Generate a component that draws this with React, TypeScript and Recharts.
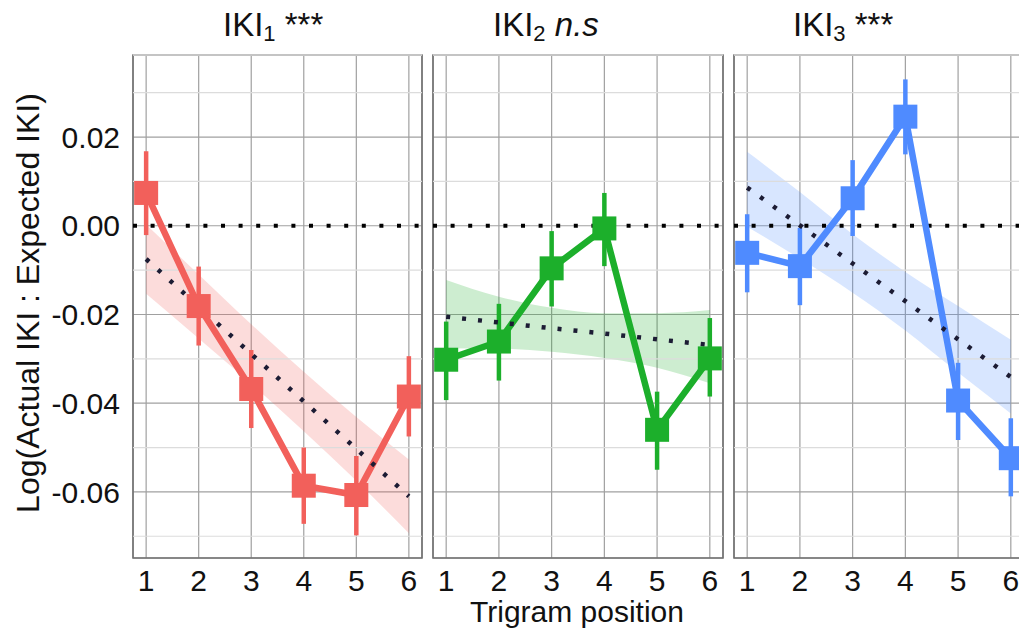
import React from "react";
import {
  ComposedChart,
  Line,
  Area,
  XAxis,
  YAxis,
  CartesianGrid,
  ReferenceLine,
  ReferenceArea,
  ErrorBar,
} from "recharts";

// trigram positions on the x axis
const positions = [1, 2, 3, 4, 5, 6];

// IKI1: mean log ratio with 95% CI, plus linear fit and its ribbon
const iki1Mean = [0.0074, -0.0181, -0.0368, -0.0586, -0.0607, -0.0385];
const iki1Lo = [-0.0021, -0.027, -0.0456, -0.0672, -0.0698, -0.0475];
const iki1Hi = [0.0168, -0.0092, -0.028, -0.05, -0.0519, -0.0294];
const iki1Fit = [-0.0075, -0.0182, -0.0289, -0.0396, -0.0503, -0.061];
const iki1FitLo = [-0.0153, -0.0254, -0.0356, -0.0463, -0.0575, -0.0693];
const iki1FitHi = [0.0003, -0.011, -0.0222, -0.0329, -0.0431, -0.0527];

// IKI2
const iki2Mean = [-0.0302, -0.0261, -0.0096, -0.0006, -0.046, -0.0299];
const iki2Lo = [-0.0393, -0.0349, -0.0182, -0.0091, -0.055, -0.0385];
const iki2Hi = [-0.0216, -0.0176, -0.0012, 0.0074, -0.0374, -0.0208];
const iki2Fit = [-0.0205, -0.0218, -0.0231, -0.0243, -0.0256, -0.0269];
const iki2FitLo = [-0.0276, -0.0277, -0.0284, -0.0298, -0.032, -0.0355];
const iki2FitHi = [-0.0122, -0.016, -0.0185, -0.0197, -0.0197, -0.019];

// IKI3
const iki3Mean = [-0.0061, -0.0091, 0.0062, 0.0246, -0.0394, -0.0524];
const iki3Lo = [-0.015, -0.0179, -0.0023, 0.0161, -0.0483, -0.061];
const iki3Hi = [0.0026, -0.0005, 0.0148, 0.033, -0.0309, -0.0434];
const iki3Fit = [0.0086, 0.0001, -0.0085, -0.017, -0.0256, -0.0341];
const iki3FitLo = [-0.0002, -0.0074, -0.0151, -0.0236, -0.0331, -0.0423];
const iki3FitHi = [0.0167, 0.0076, -0.0019, -0.0104, -0.0181, -0.0257];

const yTicks = [0.02, 0.0, -0.02, -0.04, -0.06];
const yMinorBreaks = [0.03, 0.01, -0.01, -0.03, -0.05, -0.07];
const Y_DOMAIN: [number, number] = [-0.0749, 0.0385];
const X_DOMAIN: [number, number] = [0.75, 6.25];

const FONT = "'Liberation Sans', Arial, Helvetica, sans-serif";

function buildRows(mean: number[], lo: number[], hi: number[], fit: number[], fitLo: number[], fitHi: number[]) {
  return positions.map((x, i) => ({
    x,
    mean: mean[i],
    err: [mean[i] - lo[i], hi[i] - mean[i]],
    fit: fit[i],
    band: [fitLo[i], fitHi[i]],
  }));
}

const panels = [
  { key: "iki1", color: "#F2605B", rows: buildRows(iki1Mean, iki1Lo, iki1Hi, iki1Fit, iki1FitLo, iki1FitHi), left: 0, width: 430, showY: true },
  { key: "iki2", color: "#1CAF2B", rows: buildRows(iki2Mean, iki2Lo, iki2Hi, iki2Fit, iki2FitLo, iki2FitHi), left: 425, width: 306, showY: false },
  { key: "iki3", color: "#4F8BFF", rows: buildRows(iki3Mean, iki3Lo, iki3Hi, iki3Fit, iki3FitLo, iki3FitHi), left: 726, width: 306, showY: false },
];

function SquareDot(color: string) {
  return (props: any) => {
    const { cx, cy, index } = props;
    if (cx == null || cy == null) return <g key={`sq-${index}`} />;
    return <rect key={`sq-${index}`} x={cx - 12} y={cy - 12} width={24} height={24} fill={color} />;
  };
}

function Panel({ color, rows, left, width, showY }: any) {
  return (
    <div style={{ position: "absolute", left, top: 0 }}>
      <ComposedChart
        width={width}
        height={634}
        data={rows}
        margin={{ top: 55, right: 8, bottom: 0, left: showY ? 0 : 8 }}
      >
        <CartesianGrid stroke="#a0a0a0" strokeWidth={1.2} />
        {yMinorBreaks.map((v) => (
          <ReferenceLine key={`minor-${v}`} y={v} stroke="#dcdcdc" strokeWidth={1.2} />
        ))}
        <XAxis
          dataKey="x"
          type="number"
          domain={X_DOMAIN}
          ticks={positions}
          allowDataOverflow
          height={76}
          tickLine={false}
          axisLine={false}
          tickSize={0}
          tickMargin={12}
          tick={{ fontSize: 30, fill: "#111", fontFamily: FONT }}
        />
        <YAxis
          type="number"
          domain={Y_DOMAIN}
          ticks={yTicks}
          allowDataOverflow
          hide={!showY}
          width={133}
          tickLine={false}
          axisLine={false}
          tickSize={0}
          tickMargin={13}
          tickFormatter={(v: number) => v.toFixed(2)}
          tick={{ fontSize: 30, fill: "#111", fontFamily: FONT }}
        />
        <Area
          dataKey="band"
          type="monotone"
          stroke="none"
          fill={color}
          fillOpacity={0.22}
          isAnimationActive={false}
          activeDot={false}
        />
        <ReferenceLine y={0} stroke="#000" strokeWidth={4} strokeDasharray="4 13.6" />
        <Line
          dataKey="mean"
          type="linear"
          stroke={color}
          strokeWidth={6.5}
          dot={SquareDot(color)}
          activeDot={false}
          isAnimationActive={false}
        >
          <ErrorBar dataKey="err" direction="y" width={0} stroke={color} strokeWidth={4.5} isAnimationActive={false} />
        </Line>
        <Line
          dataKey="fit"
          type="linear"
          stroke="#1c1c34"
          strokeWidth={4.5}
          strokeDasharray="4 12"
          dot={false}
          activeDot={false}
          isAnimationActive={false}
        />
        <ReferenceArea
          x1={X_DOMAIN[0]}
          x2={X_DOMAIN[1]}
          y1={Y_DOMAIN[0]}
          y2={Y_DOMAIN[1]}
          fill="none"
          stroke="#707070"
          strokeWidth={1.6}
        />
        <ReferenceLine y={Y_DOMAIN[1]} stroke="#c4c4c4" strokeWidth={2} />
      </ComposedChart>
    </div>
  );
}

export default function App() {
  return (
    <div
      style={{
        position: "absolute",
        left: 0,
        top: 0,
        width: 1019,
        height: 634,
        overflow: "hidden",
        background: "#fff",
        fontFamily: FONT,
      }}
    >
      {panels.map((p) => (
        <Panel key={p.key} {...p} />
      ))}
      <svg width={1019} height={634} style={{ position: "absolute", left: 0, top: 0, pointerEvents: "none" }}>
        <g fontFamily={FONT} fill="#111">
          <text x={223} y={36} fontSize={33}>
            IKI<tspan fontSize={22} dy={5}>1</tspan>
            <tspan dy={-5}> ***</tspan>
          </text>
          <text x={493} y={36} fontSize={33}>
            IKI<tspan fontSize={22} dy={5}>2</tspan>
            <tspan dy={-5} fontStyle="italic"> n.s</tspan>
          </text>
          <text x={793} y={36} fontSize={33}>
            IKI<tspan fontSize={22} dy={5}>3</tspan>
            <tspan dy={-5}> ***</tspan>
          </text>
          <text
            x={28}
            y={303}
            fontSize={32}
            textAnchor="middle"
            dominantBaseline="central"
            transform="rotate(-90, 28, 303)"
          >
            Log(Actual IKI : Expected IKI)
          </text>
          <text x={577} y={622} fontSize={30} textAnchor="middle">
            Trigram position
          </text>
        </g>
      </svg>
    </div>
  );
}
